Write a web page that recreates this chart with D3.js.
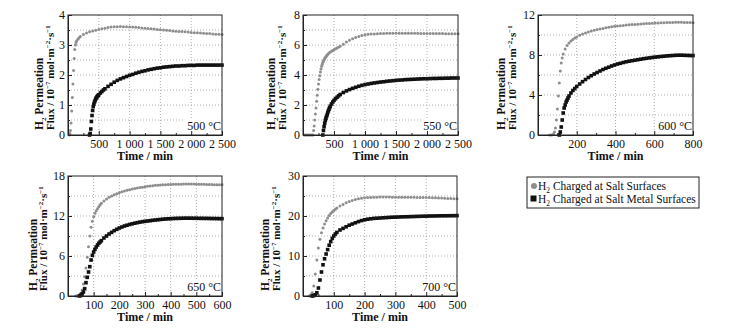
<!DOCTYPE html>
<html><head><meta charset="utf-8">
<script src="https://cdn.jsdelivr.net/npm/d3@7"></script>
<style>
html,body{margin:0;padding:0;background:#fff}
svg{display:block}
svg text{font-family:"Liberation Serif","DejaVu Serif",serif}
</style>
</head><body><div id="chart"></div>
<script>
// [time min, flux 1e-7 mol m-2 s-1]
const salt500 = [[20,0],[30,0.05],[40,0.15],[50,0.4],[60,0.8],[70,1.25],[80,1.7],[90,2.15],[100,2.55],[110,2.85],[120,3.0],[130,3.08],[140,3.13],[160,3.19],[180,3.24],[200,3.28],[250,3.35],[300,3.4],[350,3.44],[400,3.47],[450,3.49],[500,3.52],[550,3.54],[600,3.56],[650,3.58],[700,3.6],[750,3.61],[800,3.61],[850,3.62],[900,3.61],[950,3.61],[1000,3.6],[1050,3.6],[1100,3.59],[1150,3.58],[1200,3.57],[1250,3.56],[1300,3.55],[1350,3.54],[1400,3.53],[1450,3.52],[1500,3.51],[1550,3.5],[1600,3.49],[1650,3.48],[1700,3.47],[1750,3.46],[1800,3.45],[1850,3.45],[1900,3.44],[1950,3.43],[2000,3.42],[2050,3.41],[2100,3.41],[2150,3.4],[2200,3.39],[2250,3.38],[2300,3.38],[2350,3.37],[2400,3.36],[2450,3.36],[2500,3.35]];
const metal500 = [[350,0],[360,0.05],[370,0.2],[380,0.45],[390,0.65],[400,0.82],[410,0.95],[420,1.03],[430,1.1],[440,1.15],[450,1.2],[460,1.24],[470,1.27],[480,1.3],[490,1.32],[500,1.34],[525,1.4],[550,1.45],[575,1.5],[600,1.54],[650,1.62],[700,1.69],[750,1.76],[800,1.82],[850,1.87],[900,1.91],[950,1.95],[1000,1.99],[1050,2.02],[1100,2.06],[1150,2.09],[1200,2.12],[1250,2.14],[1300,2.17],[1350,2.19],[1400,2.21],[1450,2.23],[1500,2.24],[1550,2.26],[1600,2.27],[1650,2.28],[1700,2.29],[1750,2.3],[1800,2.3],[1850,2.31],[1900,2.31],[1950,2.32],[2000,2.32],[2050,2.32],[2100,2.33],[2150,2.33],[2200,2.33],[2250,2.33],[2300,2.33],[2350,2.33],[2400,2.33],[2450,2.33],[2500,2.33]];

const salt550 = [[20,0],[40,0],[60,0],[80,0],[100,0],[120,0],[140,0],[160,0],[170,0.3],[180,0.6],[190,1.0],[200,1.4],[210,1.8],[220,2.25],[230,2.65],[240,3.05],[250,3.4],[260,3.7],[270,3.95],[280,4.2],[290,4.4],[300,4.58],[310,4.72],[320,4.84],[330,4.94],[340,5.02],[350,5.1],[360,5.16],[370,5.22],[380,5.28],[390,5.33],[400,5.38],[420,5.46],[440,5.53],[460,5.59],[480,5.64],[500,5.69],[525,5.75],[550,5.8],[575,5.86],[600,5.92],[650,6.05],[700,6.2],[750,6.32],[800,6.42],[850,6.5],[900,6.57],[950,6.63],[1000,6.68],[1050,6.71],[1100,6.73],[1150,6.74],[1200,6.75],[1250,6.76],[1300,6.77],[1350,6.78],[1400,6.78],[1450,6.78],[1500,6.78],[1550,6.78],[1600,6.78],[1650,6.78],[1700,6.78],[1750,6.78],[1800,6.78],[1850,6.78],[1900,6.77],[1950,6.77],[2000,6.77],[2050,6.77],[2100,6.76],[2150,6.76],[2200,6.76],[2250,6.76],[2300,6.75],[2350,6.75],[2400,6.75],[2450,6.75],[2500,6.75]];
const metal550 = [[320,0],[330,0.3],[340,0.55],[350,0.78],[360,0.97],[370,1.12],[380,1.24],[390,1.36],[400,1.5],[410,1.62],[420,1.72],[430,1.82],[440,1.92],[460,2.07],[480,2.2],[500,2.31],[525,2.42],[550,2.52],[575,2.61],[600,2.7],[650,2.83],[700,2.94],[750,3.03],[800,3.11],[850,3.18],[900,3.25],[950,3.31],[1000,3.36],[1050,3.4],[1100,3.44],[1150,3.47],[1200,3.5],[1250,3.53],[1300,3.55],[1350,3.58],[1400,3.6],[1450,3.62],[1500,3.64],[1550,3.66],[1600,3.67],[1650,3.69],[1700,3.7],[1750,3.71],[1800,3.72],[1850,3.73],[1900,3.74],[1950,3.75],[2000,3.75],[2050,3.76],[2100,3.77],[2150,3.77],[2200,3.78],[2250,3.78],[2300,3.79],[2350,3.79],[2400,3.8],[2450,3.8],[2500,3.8]];

const salt600 = [[60,0],[70,0],[80,0.1],[85,0.3],[90,0.7],[95,1.5],[100,2.6],[105,3.9],[110,5.2],[115,6.4],[120,7.2],[125,7.7],[130,8.1],[140,8.6],[150,8.95],[160,9.2],[170,9.4],[180,9.55],[190,9.7],[200,9.8],[215,9.97],[230,10.1],[245,10.2],[260,10.3],[275,10.4],[290,10.48],[305,10.55],[320,10.6],[335,10.66],[350,10.72],[365,10.78],[380,10.83],[395,10.87],[410,10.9],[425,10.93],[440,10.96],[455,10.99],[470,11.02],[485,11.04],[500,11.06],[515,11.08],[530,11.1],[545,11.12],[560,11.14],[575,11.16],[590,11.18],[605,11.2],[620,11.21],[635,11.22],[650,11.23],[665,11.24],[680,11.25],[695,11.26],[710,11.27],[725,11.27],[740,11.27],[755,11.26],[770,11.25],[785,11.24],[800,11.23]];
const metal600 = [[110,0],[115,0.3],[120,0.8],[125,1.5],[130,2.2],[135,2.7],[140,3.0],[145,3.3],[150,3.5],[155,3.7],[160,3.9],[170,4.2],[180,4.45],[190,4.65],[200,4.85],[215,5.1],[230,5.33],[245,5.55],[260,5.75],[275,5.93],[290,6.1],[305,6.25],[320,6.4],[335,6.55],[350,6.67],[365,6.78],[380,6.9],[395,7.0],[410,7.1],[425,7.17],[440,7.25],[455,7.32],[470,7.38],[485,7.43],[500,7.48],[515,7.53],[530,7.58],[545,7.63],[560,7.67],[575,7.71],[590,7.75],[605,7.79],[620,7.82],[635,7.85],[650,7.88],[665,7.91],[680,7.93],[695,7.95],[710,7.97],[725,7.98],[740,7.98],[755,7.97],[770,7.96],[785,7.95],[800,7.94]];

const salt650 = [[30,0],[35,0],[40,0.1],[45,0.2],[50,0.4],[55,0.9],[60,1.8],[65,2.9],[70,4.2],[75,5.8],[80,7.4],[85,9.0],[90,10.3],[95,11.2],[100,11.9],[105,12.4],[110,12.8],[115,13.1],[120,13.4],[125,13.65],[130,13.9],[140,14.25],[150,14.55],[160,14.8],[170,15.0],[180,15.2],[190,15.35],[200,15.5],[210,15.62],[220,15.75],[230,15.85],[240,15.95],[250,16.05],[260,16.12],[270,16.2],[280,16.27],[290,16.33],[300,16.4],[310,16.45],[320,16.5],[330,16.55],[340,16.6],[350,16.62],[360,16.65],[370,16.68],[380,16.7],[390,16.72],[400,16.74],[410,16.75],[420,16.76],[430,16.78],[440,16.78],[450,16.8],[460,16.8],[470,16.8],[480,16.8],[490,16.8],[500,16.78],[510,16.77],[520,16.76],[530,16.75],[540,16.74],[550,16.72],[560,16.71],[570,16.7],[580,16.7],[590,16.68],[600,16.68]];
const metal650 = [[45,0],[50,0.1],[55,0.3],[60,0.6],[65,1.1],[70,2.0],[75,2.8],[80,3.6],[85,4.4],[90,5.4],[95,6.1],[100,6.6],[105,7.0],[110,7.35],[115,7.65],[120,7.9],[125,8.1],[130,8.3],[140,8.7],[150,9.0],[160,9.3],[170,9.55],[180,9.8],[190,10.0],[200,10.2],[210,10.35],[220,10.5],[230,10.62],[240,10.73],[250,10.83],[260,10.92],[270,11.0],[280,11.08],[290,11.15],[300,11.2],[310,11.25],[320,11.3],[330,11.35],[340,11.4],[350,11.44],[360,11.48],[370,11.52],[380,11.55],[390,11.58],[400,11.6],[410,11.62],[420,11.64],[430,11.65],[440,11.66],[450,11.67],[460,11.67],[470,11.67],[480,11.67],[490,11.66],[500,11.66],[510,11.65],[520,11.65],[530,11.64],[540,11.64],[550,11.63],[560,11.62],[570,11.62],[580,11.61],[590,11.6],[600,11.6]];

const salt700 = [[20,0],[25,0.3],[30,0.8],[35,2.5],[40,5.5],[45,9.0],[50,12.0],[55,14.2],[60,15.8],[65,17.0],[70,18.0],[75,18.8],[80,19.5],[85,20.1],[90,20.6],[95,21.0],[100,21.4],[105,21.7],[110,22.0],[120,22.5],[130,22.9],[140,23.3],[150,23.6],[160,23.9],[170,24.1],[180,24.3],[190,24.45],[200,24.55],[210,24.6],[220,24.65],[230,24.7],[240,24.7],[250,24.72],[260,24.72],[270,24.72],[280,24.72],[290,24.7],[300,24.7],[310,24.7],[320,24.7],[330,24.68],[340,24.68],[350,24.67],[360,24.66],[370,24.65],[380,24.65],[390,24.64],[400,24.63],[410,24.6],[420,24.58],[430,24.55],[440,24.52],[450,24.5],[460,24.45],[470,24.4],[480,24.37],[490,24.33],[500,24.3]];
const metal700 = [[30,0],[35,0.1],[40,0.3],[45,0.8],[50,2.0],[55,4.0],[60,6.0],[65,7.8],[70,9.3],[75,10.5],[80,11.6],[85,12.7],[90,13.6],[95,14.4],[100,15.0],[105,15.5],[110,15.9],[120,16.5],[130,16.9],[140,17.3],[150,17.7],[160,18.0],[170,18.3],[180,18.6],[190,18.85],[200,19.05],[210,19.2],[220,19.3],[230,19.4],[240,19.45],[250,19.5],[260,19.55],[270,19.6],[280,19.65],[290,19.7],[300,19.72],[310,19.75],[320,19.78],[330,19.8],[340,19.82],[350,19.85],[360,19.87],[370,19.9],[380,19.92],[390,19.95],[400,19.97],[410,20.0],[420,20.0],[430,20.02],[440,20.03],[450,20.05],[460,20.05],[470,20.06],[480,20.07],[490,20.08],[500,20.1]];

const temps = ['500 °C', '550 °C', '600 °C', '650 °C', '700 °C'];
const xTicks500 = [500, 1000, 1500, 2000, 2500];
const xTicks600 = [200, 400, 600, 800];
const xTicks650 = [100, 200, 300, 400, 500, 600];
const xTicks700 = [100, 200, 300, 400, 500];
const yTicks500 = [0, 1, 2, 3, 4];
const yTicks550 = [0, 2, 4, 6, 8];
const yTicks600 = [0, 4, 8, 12];
const yTicks650 = [0, 6, 12, 18];
const yTicks700 = [0, 10, 20, 30];
const legendLabels = ['Charged at Salt Surfaces', 'Charged at Salt Metal Surfaces'];

const panels = [
  { temp: temps[0], salt: salt500, metal: metal500, xTicks: xTicks500, yTicks: yTicks500, box: [68, 15, 222, 135], tdx: [-25, -14] },
  { temp: temps[1], salt: salt550, metal: metal550, xTicks: xTicks500, yTicks: yTicks550, box: [303, 15, 458, 135], tdx: [-28, -17] },
  { temp: temps[2], salt: salt600, metal: metal600, xTicks: xTicks600, yTicks: yTicks600, box: [538, 15, 693, 135], tdx: [-33, -22] },
  { temp: temps[3], salt: salt650, metal: metal650, xTicks: xTicks650, yTicks: yTicks650, box: [68, 176, 222, 296], tdx: [-31, -21] },
  { temp: temps[4], salt: salt700, metal: metal700, xTicks: xTicks700, yTicks: yTicks700, box: [303, 176, 457, 296], tdx: [-34, -23] }
];

const W = 730, H = 333;
const GRAY = '#8e8e8e', BLACK = '#111';
const svg = d3.select('#chart').append('svg').attr('width', W).attr('height', H);
const fmtX = d => d3.format(',')(d).replace(/,/g, ' ');

panels.forEach(p => {
  const [x0, y0, x1, y1] = p.box;
  const xMax = p.xTicks[p.xTicks.length - 1], yMax = p.yTicks[p.yTicks.length - 1];
  const xs = p.xTicks[1] - p.xTicks[0], ys = p.yTicks[1] - p.yTicks[0];
  const x = d3.scaleLinear().domain([0, xMax]).range([x0, x1]);
  const y = d3.scaleLinear().domain([0, yMax]).range([y1, y0]);
  const g = svg.append('g');

  // dotted grid: x at majors, y at majors + halves
  const xGrid = p.xTicks.filter(d => d < xMax);
  const yGrid = d3.range(ys / 2, yMax - 1e-9, ys / 2);
  g.append('g').selectAll('line').data(xGrid).join('line')
    .attr('x1', d => x(d)).attr('x2', d => x(d)).attr('y1', y0).attr('y2', y1)
    .attr('stroke', '#999').attr('stroke-width', 0.8).attr('stroke-dasharray', '1,2');
  g.append('g').selectAll('line').data(yGrid).join('line')
    .attr('y1', d => y(d)).attr('y2', d => y(d)).attr('x1', x0).attr('x2', x1)
    .attr('stroke', '#999').attr('stroke-width', 0.8).attr('stroke-dasharray', '1,2');

  g.append('g').selectAll('circle').data(p.salt).join('circle')
    .attr('cx', d => x(d[0])).attr('cy', d => y(d[1])).attr('r', 1.5).attr('fill', GRAY);
  g.append('g').selectAll('rect').data(p.metal).join('rect')
    .attr('x', d => x(d[0]) - 1.8).attr('y', d => y(d[1]) - 1.8).attr('width', 3.6).attr('height', 3.6).attr('fill', BLACK);

  // temperature tag on a white patch
  const tag = g.append('text').attr('x', x1 - 1).attr('y', y1 - 5).attr('text-anchor', 'end')
    .attr('font-size', 12).attr('fill', '#111').text(p.temp);
  const bb = tag.node().getBBox();
  g.insert('rect', () => tag.node()).attr('x', bb.x - 2).attr('y', bb.y).attr('width', bb.width + 2).attr('height', bb.height).attr('fill', '#fff');

  g.append('rect').attr('x', x0).attr('y', y0).attr('width', x1 - x0).attr('height', y1 - y0)
    .attr('fill', 'none').attr('stroke', '#222').attr('stroke-width', 1);

  const xMinor = d3.range(xs / 2, xMax, xs);
  const yMinor = d3.range(ys / 2, yMax, ys);
  const ax = g.append('g').attr('transform', `translate(0,${y1})`)
    .call(d3.axisBottom(x).tickValues(p.xTicks).tickSize(-4).tickSizeOuter(0).tickPadding(4).tickFormat(fmtX));
  g.append('g').attr('transform', `translate(0,${y1})`)
    .call(d3.axisBottom(x).tickValues(xMinor).tickSize(-2).tickSizeOuter(0).tickFormat(''));
  const ay = g.append('g').attr('transform', `translate(${x0},0)`)
    .call(d3.axisLeft(y).tickValues(p.yTicks).tickSize(-4).tickSizeOuter(0).tickPadding(3).tickFormat(d => d));
  g.append('g').attr('transform', `translate(${x0},0)`)
    .call(d3.axisLeft(y).tickValues(yMinor).tickSize(-2).tickSizeOuter(0).tickFormat(''));
  g.selectAll('.domain').attr('stroke', '#222');
  g.selectAll('.tick line').attr('stroke', '#222');
  [ax, ay].forEach(a => a.attr('font-family', null).attr('font-size', 12).selectAll('text').attr('fill', '#111'));

  g.append('text').attr('x', (x0 + x1) / 2).attr('y', y1 + 25).attr('text-anchor', 'middle')
    .attr('font-size', 12).attr('font-weight', 700).attr('fill', '#111').text('Time / min');

  const t1 = g.append('text').attr('transform', `translate(${x0 + p.tdx[0]},${y1 - 5}) rotate(-90)`)
    .attr('font-size', 11.5).attr('font-weight', 700).attr('fill', '#111');
  t1.append('tspan').text('H');
  t1.append('tspan').attr('font-size', 7).attr('dy', 3).text('2');
  t1.append('tspan').attr('dy', -3).text(' Permeation');
  const t2 = g.append('text').attr('transform', `translate(${x0 + p.tdx[1]},${y1 - 5}) rotate(-90)`)
    .attr('font-size', 11).attr('font-weight', 700).attr('fill', '#111');
  t2.append('tspan').text('Flux / 10');
  t2.append('tspan').attr('font-size', 7).attr('dy', -4).text('−7');
  t2.append('tspan').attr('dy', 4).text(' mol·m');
  t2.append('tspan').attr('font-size', 7).attr('dy', -4).text('−2');
  t2.append('tspan').attr('dy', 4).text('·s');
  t2.append('tspan').attr('font-size', 7).attr('dy', -4).text('−1');
});

// legend
const lg = svg.append('g').attr('transform', 'translate(527,177)');
lg.append('rect').attr('width', 172).attr('height', 31).attr('fill', '#fff').attr('stroke', '#222').attr('stroke-width', 1);
lg.append('circle').attr('cx', 7).attr('cy', 9).attr('r', 3).attr('fill', GRAY);
lg.append('rect').attr('x', 3.5).attr('y', 18.5).attr('width', 6).attr('height', 6).attr('fill', BLACK);
legendLabels.forEach((s, i) => {
  const t = lg.append('text').attr('x', 11).attr('y', 13 + i * 13).attr('font-size', 11.5).attr('fill', '#111');
  t.append('tspan').text('H');
  t.append('tspan').attr('font-size', 7.5).attr('dy', 3).text('2');
  t.append('tspan').attr('dy', -3).text(' ' + s);
});
</script>
</body></html>
